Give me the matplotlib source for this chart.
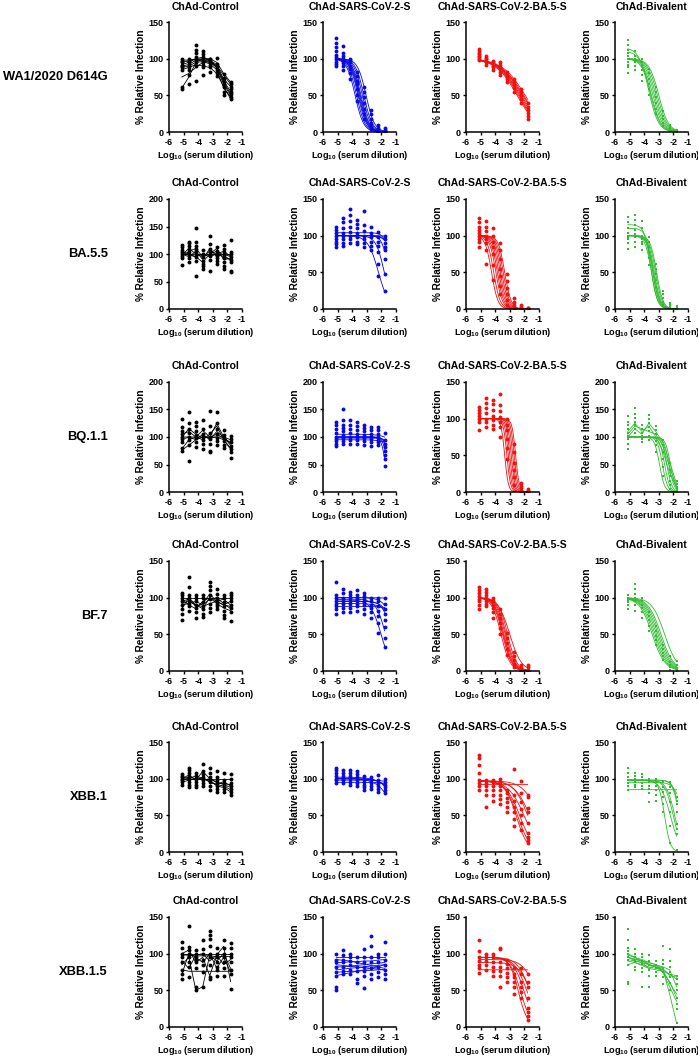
import numpy as np
import matplotlib.pyplot as plt

plt.rcParams['font.family'] = ['Liberation Sans', 'DejaVu Sans']
plt.rcParams['font.weight'] = 'bold'
plt.rcParams['mathtext.fontset'] = 'custom'
plt.rcParams['mathtext.rm'] = 'Liberation Sans:bold'
plt.rcParams['mathtext.default'] = 'rm'
plt.rcParams['axes.unicode_minus'] = False

# log10 serum dilutions (1:60, 3-fold)
dilutions = [-5.12, -4.64, -4.16, -3.69, -3.21, -2.73, -2.26, -1.78]

variants = ['WA1/2020 D614G', 'BA.5.5', 'BQ.1.1', 'BF.7', 'XBB.1', 'XBB.1.5']
vaccines = ['ChAd-Control', 'ChAd-SARS-CoV-2-S', 'ChAd-SARS-CoV-2-BA.5-S', 'ChAd-Bivalent']
colors = ['black', '#0a0ae0', '#f01010', '#30bb30']
markers = ['o', 'o', 'o', 's']

# y-axis max per row / column
ymax = [[150, 150, 150, 150],
        [200, 150, 150, 150],
        [200, 200, 150, 200],
        [150, 150, 150, 150],
        [150, 150, 150, 150],
        [150, 150, 150, 150]]

# curves: 3 values = (top, logIC50, hill) fitted curve, 8 values = value per dilution

# ---- WA1/2020 D614G ----
wa1_ctrl_pts = [[58, 61, 85, 88, 90, 92, 95, 97, 99], [66, 78, 85, 88, 92, 95, 97, 100],
                [70, 90, 95, 98, 102, 108, 112, 118], [78, 88, 92, 95, 98, 102, 107, 111],
                [82, 88, 92, 95, 97, 99, 100], [76, 80, 85, 88, 90, 93, 101],
                [50, 55, 62, 66, 70, 74, 79], [45, 48, 52, 55, 58, 62, 65, 68]]
wa1_ctrl_curves = [[95, 97, 100, 98, 97, 90, 70, 55], [90, 92, 98, 97, 95, 88, 65, 50],
                   [88, 90, 95, 96, 93, 85, 60, 48], [60, 75, 95, 100, 98, 92, 72, 62],
                   [75, 80, 88, 95, 96, 90, 78, 65], [98, 98, 99, 100, 100, 95, 80, 68],
                   [85, 88, 92, 90, 88, 80, 62, 45], [92, 95, 100, 102, 98, 88, 68, 52]]
wa1_s_pts = [[90, 93, 96, 99, 102, 105, 110, 116, 122, 128], [85, 90, 94, 97, 100, 103, 108, 117],
             [72, 80, 86, 90, 95, 98, 100], [42, 50, 58, 65, 70, 76, 82],
             [18, 25, 32, 40, 48, 55, 62], [4, 8, 12, 18, 24, 30],
             [0, 2, 4, 6, 10], [0, 1, 2, 3, 5]]
wa1_s_curves = [(100, -3.8, 1.5), (100, -3.7, 1.5), (100, -3.6, 1.5), (100, -3.55, 1.5),
                (100, -3.5, 1.5), (100, -3.45, 1.5), (100, -3.4, 1.5), (100, -3.3, 1.5),
                (100, -3.2, 1.5), (100, -3.05, 1.5)]
wa1_ba5_pts = [[98, 100, 102, 104, 106, 108, 110, 113], [92, 95, 97, 99, 101, 104],
               [85, 88, 90, 93, 95, 97], [78, 82, 86, 88, 92, 95],
               [68, 72, 75, 78, 82], [55, 60, 64, 68, 72],
               [40, 45, 50, 55, 58], [18, 22, 26, 30, 34, 40]]
wa1_ba5_curves = [(100, -2.5, 0.6), (100, -2.42, 0.6), (100, -2.35, 0.6), (100, -2.28, 0.58),
                  (100, -2.2, 0.58), (100, -2.12, 0.55), (100, -2.05, 0.55), (100, -1.95, 0.55)]
wa1_bi_pts = [[80, 88, 92, 96, 100, 104, 108, 112, 118, 125], [85, 90, 95, 98, 100, 104, 110],
              [70, 78, 85, 90, 95, 100], [50, 58, 65, 72, 80, 86],
              [25, 32, 40, 48, 55, 62], [8, 12, 18, 22, 28],
              [1, 3, 5, 8, 10], [0, 1, 2, 3]]
wa1_bi_curves = [(115, -3.7, 1.3), (110, -3.6, 1.3), (100, -3.5, 1.3), (100, -3.4, 1.3),
                 (100, -3.3, 1.3), (100, -3.2, 1.3), (100, -3.1, 1.3), (100, -3.0, 1.3)]

# ---- BA.5.5 ----
ba55_ctrl_pts = [[80, 92, 96, 100, 104, 108, 112, 117], [85, 92, 98, 104, 110, 115, 120, 122],
                 [60, 88, 95, 100, 105, 110, 115, 122, 148], [72, 78, 82, 88, 95, 100, 108],
                 [70, 90, 96, 100, 105, 110, 118, 133], [82, 88, 92, 96, 100, 106, 112],
                 [72, 78, 86, 92, 98, 104, 110, 117], [67, 70, 85, 90, 95, 100, 104, 125]]
ba55_ctrl_curves = [[100, 100, 100, 100, 100, 100, 100, 100], [95, 105, 110, 95, 105, 100, 95, 90],
                    [105, 100, 95, 85, 100, 105, 98, 88], [100, 95, 105, 90, 110, 95, 100, 95],
                    [98, 110, 100, 95, 100, 110, 90, 92], [102, 98, 95, 100, 95, 100, 105, 96]]
ba55_s_pts = [[84, 88, 92, 96, 100, 104, 108, 112], [86, 90, 96, 100, 104, 110, 118, 124],
              [90, 95, 100, 105, 112, 120, 128, 136], [88, 92, 98, 104, 110, 116, 122],
              [85, 90, 96, 100, 106, 114, 133], [80, 86, 92, 98, 104, 112],
              [45, 62, 78, 86, 92, 98, 105], [25, 48, 68, 80, 85, 90, 95, 100]]
ba55_s_curves = [(100, -2.2, 1.2), (100, -1.8, 1.5), (100, -1.5, 2), (100, -1.2, 2),
                 (100, -1.0, 1.5), (104, -1.3, 2), (100, 0.5, 1)]
ba55_ba5_pts = [[85, 92, 96, 100, 104, 108, 112, 118, 124], [62, 80, 90, 95, 100, 106, 112, 120],
                [40, 60, 75, 85, 92, 100, 110], [20, 32, 45, 55, 68, 80, 90],
                [5, 12, 20, 28, 38, 48], [0, 2, 5, 10, 15],
                [0, 1, 3, 5], [0, 1, 2]]
ba55_ba5_curves = [(100, -4.25, 2), (100, -4.1, 2), (100, -3.95, 2), (100, -3.85, 2),
                   (100, -3.75, 2), (100, -3.65, 2), (100, -3.55, 2), (100, -3.45, 2),
                   (100, -3.35, 2)]
ba55_bi_pts = [[82, 90, 95, 98, 100, 104, 110, 118, 125], [85, 92, 98, 102, 108, 115, 122, 128],
               [80, 88, 92, 96, 100, 110, 120], [60, 70, 78, 85, 92, 98],
               [30, 40, 48, 55, 62], [5, 10, 15, 20, 25],
               [1, 3, 5, 8], [0, 1, 2, 4]]
ba55_bi_curves = [(115, -3.55, 2), (110, -3.45, 2), (100, -3.5, 2), (100, -3.4, 2),
                  (100, -3.35, 2), (100, -3.3, 2), (100, -3.22, 2), (100, -3.15, 2)]

# ---- BQ.1.1 ----
bq_ctrl_pts = [[75, 80, 90, 96, 100, 105, 110, 118, 132], [57, 85, 95, 100, 108, 115, 125, 146],
               [82, 90, 98, 104, 110, 120, 128], [78, 88, 95, 100, 106, 115, 130],
               [72, 75, 88, 96, 100, 108, 120, 148], [85, 92, 98, 105, 115, 125, 145],
               [80, 86, 92, 98, 104, 112], [62, 72, 78, 84, 90, 96, 101]]
bq_ctrl_curves = [[100, 100, 100, 100, 100, 100, 100, 95], [76, 85, 95, 105, 95, 110, 100, 85],
                  [105, 110, 100, 95, 105, 120, 95, 80], [78, 95, 100, 112, 100, 105, 98, 90],
                  [100, 115, 105, 98, 100, 125, 100, 88], [95, 100, 95, 100, 98, 100, 95, 78]]
bq_s_pts = [[84, 88, 92, 96, 100, 108, 115, 122, 128], [88, 92, 98, 104, 110, 116, 122, 130, 150],
            [88, 94, 100, 108, 114, 122, 130], [88, 94, 100, 106, 112, 120, 128],
            [86, 92, 98, 104, 110, 116, 122], [84, 90, 96, 100, 106, 112, 118],
            [85, 90, 95, 100, 106, 112, 118], [48, 60, 68, 75, 82, 88, 95, 108]]
bq_s_curves = [(100, -1.72, 3), (100, -1.6, 3), (100, -1.5, 3), (98, -1.4, 3),
               (100, -0.5, 1), (95, -0.5, 1), (105, -0.5, 1)]
bq_ba5_pts = [[84, 95, 100, 104, 108, 112, 116], [88, 95, 100, 108, 115, 122, 128],
              [86, 92, 98, 104, 112, 120, 126], [75, 88, 96, 102, 110, 118, 133],
              [45, 60, 72, 85, 92, 100], [10, 20, 30, 40, 55, 65],
              [0, 2, 5, 8, 12], [0, 1, 2, 4]]
bq_ba5_curves = [(100, -3.35, 3.5), (100, -3.2, 3.5), (100, -3.1, 3.5), (100, -3.0, 3.5),
                 (100, -2.9, 3.5), (100, -2.8, 3.5), (100, -2.7, 3.5), (100, -2.6, 3.5)]
bq_bi_pts = [[78, 88, 96, 102, 108, 115, 122, 128, 138], [100, 108, 115, 122, 128, 135, 142, 152],
             [90, 96, 102, 108, 115, 122], [95, 102, 110, 118, 125, 132, 140],
             [72, 85, 92, 98, 105, 112, 120], [30, 45, 60, 72, 85, 95],
             [5, 12, 20, 30, 40, 52], [0, 2, 5, 10, 15, 20]]
bq_bi_curves = [[110, 125, 110, 120, 100, 75, 35, 8], [105, 120, 115, 110, 105, 85, 45, 10],
                [100, 115, 105, 125, 110, 90, 55, 15],
                (100, -2.95, 2.5), (100, -2.75, 2.5), (100, -2.6, 2.5),
                (100, -2.45, 2.5), (100, -2.3, 2.5), (100, -2.2, 2.5)]

# ---- BF.7 ----
bf7_ctrl_pts = [[70, 78, 85, 90, 95, 100, 104, 106], [82, 88, 92, 96, 100, 104, 115, 128],
                [72, 80, 86, 90, 95, 100, 103], [74, 78, 84, 88, 94, 100, 104],
                [80, 86, 92, 98, 104, 110, 116, 121], [84, 88, 92, 96, 100, 105, 112],
                [72, 76, 82, 88, 94, 100, 104], [68, 80, 86, 90, 95, 100, 104, 107]]
bf7_ctrl_curves = [[92, 95, 90, 88, 92, 95, 90, 88], [85, 100, 90, 85, 100, 92, 86, 82],
                   [98, 90, 85, 95, 100, 95, 98, 90], [100, 100, 100, 100, 100, 100, 100, 100],
                   [90, 92, 95, 90, 98, 100, 92, 85], [95, 98, 88, 92, 105, 95, 90, 95]]
bf7_s_pts = [[78, 84, 88, 92, 96, 100, 104, 122], [80, 86, 92, 96, 100, 106, 112],
             [80, 86, 92, 96, 100, 104, 108], [82, 88, 92, 96, 100, 104, 110],
             [78, 84, 90, 94, 98, 102, 106], [72, 80, 86, 90, 95, 100],
             [52, 65, 75, 82, 88, 95, 100], [33, 45, 60, 70, 78, 85, 92, 100]]
bf7_s_curves = [(100, -1.0, 1.2), (97, -2.0, 1.2), (98, -1.7, 1.3), (95, -1.3, 1.5),
                (92, -0.8, 1), (100, 0.5, 1), (88, 0, 1), (95, -1.1, 1.3)]
bf7_ba5_pts = [[84, 90, 95, 98, 102, 106, 110, 114], [88, 92, 96, 100, 104, 108, 112],
               [72, 80, 86, 90, 95, 100], [50, 58, 65, 72, 78, 85],
               [22, 30, 38, 45, 52], [5, 10, 15, 20, 26],
               [0, 2, 5, 8], [0, 2, 5, 8]]
bf7_ba5_curves = [(100, -3.6, 1.4), (100, -3.5, 1.4), (100, -3.45, 1.4), (100, -3.4, 1.4),
                  (100, -3.32, 1.4), (100, -3.25, 1.4), (100, -3.15, 1.4), (100, -3.0, 1.1)]
bf7_bi_pts = [[85, 90, 94, 97, 100, 104], [82, 90, 95, 100, 105, 112, 118],
              [72, 80, 86, 90, 95, 100], [55, 62, 70, 75, 80],
              [35, 42, 48, 55, 62], [15, 20, 25, 30, 35],
              [2, 5, 8, 12, 20], [0, 2, 4, 8, 14]]
bf7_bi_curves = [(100, -3.45, 1.0), (100, -3.35, 1.0), (100, -3.25, 1.0), (100, -3.15, 1.0),
                 (100, -3.05, 1.0), (100, -2.95, 1.0), (100, -2.85, 1.0), (100, -2.6, 1.0)]

# ---- XBB.1 ----
xbb1_ctrl_pts = [[92, 96, 98, 100, 102, 104, 106], [88, 92, 96, 100, 104, 108, 112, 114],
                 [88, 92, 96, 100, 104, 108], [90, 94, 98, 102, 106, 110, 120],
                 [85, 90, 95, 98, 102, 108, 114], [82, 86, 90, 94, 98, 102, 110],
                 [82, 86, 90, 94, 98, 108], [78, 82, 86, 90, 94, 100, 106]]
xbb1_ctrl_curves = [[100, 102, 100, 98, 100, 95, 92, 88], [98, 100, 104, 100, 96, 92, 90, 85],
                    [102, 100, 98, 110, 100, 95, 93, 92], [100, 100, 100, 100, 100, 100, 100, 100],
                    [95, 98, 100, 100, 98, 90, 88, 82], [100, 105, 98, 102, 95, 92, 96, 90]]
xbb1_s_pts = [[94, 98, 100, 104, 108, 112, 115], [94, 98, 100, 104, 108, 112],
              [92, 96, 100, 104, 108, 112], [90, 94, 98, 102, 106, 110],
              [84, 88, 92, 96, 100, 104], [86, 90, 94, 98, 102],
              [82, 86, 90, 94, 98, 105], [80, 84, 88, 92, 96, 100]]
xbb1_s_curves = [(100, -1.0, 0.8), (100, -0.5, 0.8), (98, 0, 1), (100, -0.8, 1),
                 (95, 0, 1), (102, -0.7, 0.8)]
xbb1_ba5_pts = [[85, 90, 94, 98, 108, 118, 128, 132], [62, 78, 85, 90, 94, 98],
                [70, 78, 85, 90, 95, 98], [65, 72, 78, 84, 90, 96, 100],
                [55, 62, 68, 74, 80, 85], [35, 45, 55, 62, 70, 78, 113],
                [30, 40, 50, 58, 68, 80, 97], [12, 16, 20, 26, 40, 55, 60, 75, 78]]
xbb1_ba5_curves = [(92, 2, 1), (97, -1.0, 0.8), (97, -1.6, 0.8), (97, -1.75, 0.9),
                   (97, -2.0, 0.8), (97, -2.3, 0.9), (97, -2.45, 1.0), (97, -2.55, 1.1)]
xbb1_bi_pts = [[85, 90, 94, 98, 102, 108, 114], [88, 92, 96, 100, 104, 108],
               [86, 90, 94, 98, 102, 106], [68, 80, 86, 90, 95, 100],
               [70, 78, 85, 90, 95, 100], [55, 65, 75, 82, 88, 95],
               [12, 35, 55, 68, 80, 88, 95], [3, 25, 32, 38, 55, 65, 70, 75]]
xbb1_bi_curves = [(85, 1, 1), (95, -1.3, 1.5), (98, -1.55, 2), (98, -1.6, 2),
                  (98, -1.9, 1.5), (98, -2.0, 1.5), (98, -2.2, 1.3), (98, -2.6, 2.2)]

# ---- XBB.1.5 ----
xbb15_ctrl_pts = [[65, 72, 78, 88, 95, 100, 108, 116], [68, 82, 88, 95, 100, 105, 109, 138],
                  [50, 55, 80, 88, 92, 96, 100, 105], [55, 75, 85, 92, 100, 106, 119],
                  [65, 68, 85, 95, 100, 110, 120, 126, 131], [70, 78, 82, 88, 95, 100, 108],
                  [70, 80, 88, 95, 100, 108, 118], [52, 72, 78, 88, 95, 100, 108, 114]]
xbb15_ctrl_curves = [[72, 100, 95, 88, 100, 80, 95, 75], [100, 100, 100, 100, 100, 100, 100, 100],
                     [98, 98, 97, 97, 97, 96, 96, 96], [78, 76, 76, 76, 76, 76, 76, 76],
                     [85, 95, 50, 55, 98, 90, 100, 80], [100, 105, 88, 95, 70, 98, 110, 62],
                     [90, 80, 98, 100, 90, 98, 85, 92]]
xbb15_s_pts = [[50, 55, 70, 75, 82, 88, 92, 100], [72, 76, 82, 88, 92, 98, 105],
               [72, 78, 84, 90, 96, 100], [60, 65, 76, 82, 88, 95],
               [53, 70, 76, 82, 88, 96, 106], [65, 72, 80, 88, 95, 110, 124],
               [68, 75, 82, 88, 95, 100], [65, 72, 78, 84, 92, 100, 116]]
xbb15_s_curves = [[95, 95, 95, 95, 95, 95, 95, 95], [88, 88, 89, 89, 90, 90, 91, 92],
                  [82, 82, 83, 84, 85, 86, 87, 88], [78, 79, 80, 81, 82, 83, 84, 85],
                  [92, 91, 90, 88, 86, 84, 82, 80], [75, 75, 76, 76, 77, 77, 78, 78],
                  [70, 72, 74, 76, 78, 80, 82, 85], [85, 84, 83, 82, 81, 80, 79, 78]]
xbb15_ba5_pts = [[74, 80, 85, 90, 96, 104, 119], [78, 84, 90, 96, 100],
                 [70, 76, 82, 88, 95, 100], [55, 70, 76, 82, 88, 106, 108],
                 [62, 68, 74, 80, 86, 92], [45, 55, 62, 68, 72, 80],
                 [40, 48, 55, 62, 72, 80], [10, 15, 20, 26, 40, 55, 62, 72]]
xbb15_ba5_curves = [(78, 1, 1), (92, -1.2, 1.0), (95, -1.6, 1.0), (95, -1.8, 1.0),
                    (95, -2.0, 1.1), (95, -2.25, 1.2), (95, -2.4, 1.4), (88, -1.5, 1.0)]
xbb15_bi_pts = [[58, 62, 85, 92, 96, 100, 104, 108, 118, 134], [78, 82, 88, 92, 96, 100, 106],
                [55, 75, 80, 86, 90, 95, 100], [55, 70, 78, 84, 90, 98],
                [70, 75, 80, 85, 90], [58, 68, 75, 80, 86, 92, 110],
                [50, 60, 68, 75, 82, 90, 106], [5, 25, 32, 40, 50, 58, 65, 70]]
xbb15_bi_curves = [[98, 95, 92, 88, 85, 80, 70, 68], [95, 92, 90, 86, 82, 78, 72, 65],
                   [92, 90, 88, 85, 82, 75, 62, 40], [96, 90, 88, 80, 85, 75, 55, 35],
                   [90, 88, 85, 82, 80, 78, 60, 45], [85, 88, 84, 80, 78, 76, 72, 70],
                   [100, 95, 90, 85, 82, 80, 45, 5], [95, 93, 90, 88, 85, 82, 78, 55]]

panels = [
    [(wa1_ctrl_pts, wa1_ctrl_curves), (wa1_s_pts, wa1_s_curves),
     (wa1_ba5_pts, wa1_ba5_curves), (wa1_bi_pts, wa1_bi_curves)],
    [(ba55_ctrl_pts, ba55_ctrl_curves), (ba55_s_pts, ba55_s_curves),
     (ba55_ba5_pts, ba55_ba5_curves), (ba55_bi_pts, ba55_bi_curves)],
    [(bq_ctrl_pts, bq_ctrl_curves), (bq_s_pts, bq_s_curves),
     (bq_ba5_pts, bq_ba5_curves), (bq_bi_pts, bq_bi_curves)],
    [(bf7_ctrl_pts, bf7_ctrl_curves), (bf7_s_pts, bf7_s_curves),
     (bf7_ba5_pts, bf7_ba5_curves), (bf7_bi_pts, bf7_bi_curves)],
    [(xbb1_ctrl_pts, xbb1_ctrl_curves), (xbb1_s_pts, xbb1_s_curves),
     (xbb1_ba5_pts, xbb1_ba5_curves), (xbb1_bi_pts, xbb1_bi_curves)],
    [(xbb15_ctrl_pts, xbb15_ctrl_curves), (xbb15_s_pts, xbb15_s_curves),
     (xbb15_ba5_pts, xbb15_ba5_curves), (xbb15_bi_pts, xbb15_bi_curves)],
]

W, H = 698, 1057
col_left = [169, 323, 466, 615]
row_top = [22, 199, 382, 561, 742, 917]
aw, ah = 73, 110

fig = plt.figure(figsize=(W / 100, H / 100), dpi=100)

for r in range(6):
    for c in range(4):
        ax = fig.add_axes([col_left[c] / W, 1 - (row_top[r] + ah) / H, aw / W, ah / H])
        pts, curves = panels[r][c]
        col = colors[c]
        xs = np.linspace(dilutions[0], dilutions[-1], 120)
        for cv in curves:
            if len(cv) == 3:
                top, logic50, hill = cv
                ax.plot(xs, top / (1 + 10 ** ((xs - logic50) * hill)), color=col, lw=0.6)
            else:
                ax.plot(dilutions, cv, color=col, lw=0.6)
        for xv, ys in zip(dilutions, pts):
            ax.plot([xv] * len(ys), ys, ls='none', marker=markers[c],
                    ms=2.8 if markers[c] == 'o' else 2.1, color=col, mew=0)
        ax.set_xlim(-6, -1)
        ax.set_ylim(0, ymax[r][c])
        ax.set_xticks([-6, -5, -4, -3, -2, -1])
        ax.set_yticks(np.arange(0, ymax[r][c] + 1, 50))
        ax.spines['top'].set_visible(False)
        ax.spines['right'].set_visible(False)
        for s in ['left', 'bottom']:
            ax.spines[s].set_linewidth(1.1)
        ax.tick_params(labelsize=6.5, width=1.0, length=2.5, pad=1.5)
        for lab in ax.get_xticklabels() + ax.get_yticklabels():
            lab.set_fontweight('bold')
        title = vaccines[c]
        if r == 5 and c == 0:
            title = 'ChAd-control'
        ax.set_title(title, fontsize=7.5, fontweight='bold', pad=9)
        ax.set_ylabel('% Relative Infection', fontsize=7.2, fontweight='bold', labelpad=2)
        ax.set_xlabel(r'Log$_{10}$ (serum dilution)', fontsize=6.6, fontweight='bold', labelpad=2)
    fig.text(108 / W, 1 - (row_top[r] + ah / 2) / H, variants[r], ha='right', va='center',
             fontsize=9.3, fontweight='bold')

fig.savefig('out.png', dpi=100)
